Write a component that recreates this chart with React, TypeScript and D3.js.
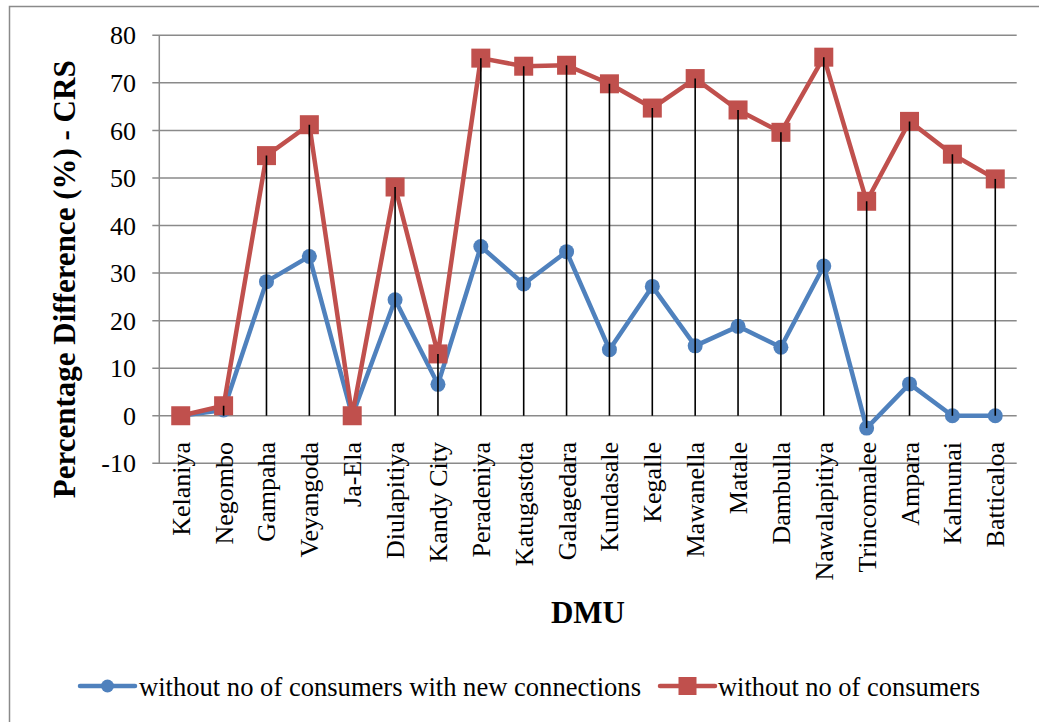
import React from "react";
import * as d3 from "d3";

// DMU names along the category axis
const categories = [
  "Kelaniya", "Negombo", "Gampaha", "Veyangoda", "Ja-Ela", "Diulapitiya",
  "Kandy City", "Peradeniya", "Katugastota", "Galagedara", "Kundasale",
  "Kegalle", "Mawanella", "Matale", "Dambulla", "Nawalapitiya",
  "Trincomalee", "Ampara", "Kalmunai", "Batticaloa",
];

// Percentage difference (%) - CRS
const withNewConnections = [
  0, 1.2, 28.2, 33.5, 0, 24.4, 6.6, 35.6, 27.7, 34.5, 13.9, 27.2, 14.7,
  18.8, 14.4, 31.5, -2.6, 6.7, 0, 0,
];
const withoutConsumers = [
  0, 2.1, 54.7, 61.2, 0, 48.1, 13.0, 75.2, 73.5, 73.7, 69.8, 64.7, 70.9,
  64.3, 59.6, 75.4, 45.1, 61.9, 55.0, 49.8,
];

const yTicks = [-10, 0, 10, 20, 30, 40, 50, 60, 70, 80];

const seriesNames = [
  "without no of consumers with new connections",
  "without no of consumers",
];

const W = 1039;
const H = 722;
const BLUE = "#4F81BD";
const RED = "#C0504D";
const GRID = "#8a8a8a";
const FONT = "'Liberation Serif', 'Times New Roman', serif";

export default function App() {
  const plotLeft = 159.3;
  const plotRight = 1016.7;
  const y = d3.scaleLinear().domain([-10, 80]).range([463.3, 35.3]);
  const x = d3.scaleBand<string>().domain(categories).range([plotLeft, plotRight]);
  const cx = (c: string) => (x(c) as number) + x.bandwidth() / 2;

  const line = d3
    .line<number>()
    .x((_, i) => cx(categories[i]))
    .y((d) => y(d));

  // high-low lines span the highest and lowest of both series and zero
  const hiLo = categories.map((c, i) => {
    const vals = [withNewConnections[i], withoutConsumers[i], 0];
    return { c, hi: d3.max(vals) as number, lo: d3.min(vals) as number };
  });

  const legendY = 686;

  return (
    <svg
      width={W}
      height={H}
      style={{ position: "absolute", left: 0, top: 0, background: "#fff" }}
      fontFamily={FONT}
    >
      <rect x={9.5} y={6.5} width={W + 20} height={H + 20} fill="#fff" stroke={GRID} strokeWidth={1.5} />

      {/* horizontal gridlines with outward ticks */}
      {yTicks.map((t) => (
        <g key={t}>
          <line x1={plotLeft - 7} x2={plotRight} y1={y(t)} y2={y(t)} stroke={GRID} strokeWidth={1.5} />
          <text
            x={136}
            y={y(t)}
            dy="0.35em"
            textAnchor="end"
            fontSize={26}
            fill="#000"
          >
            {t}
          </text>
        </g>
      ))}
      <line x1={plotLeft} x2={plotLeft} y1={y(80)} y2={y(-10)} stroke={GRID} strokeWidth={1.5} />

      {/* category labels, rotated */}
      {categories.map((c) => (
        <text
          key={c}
          transform={`translate(${cx(c) + 9},442) rotate(-90)`}
          textAnchor="end"
          fontSize={26}
          fill="#000"
        >
          {c}
        </text>
      ))}

      {/* series lines */}
      <path d={line(withNewConnections) || ""} fill="none" stroke={BLUE} strokeWidth={4.5} strokeLinejoin="round" />
      {withNewConnections.map((v, i) => (
        <circle key={"b" + i} cx={cx(categories[i])} cy={y(v)} r={7.5} fill={BLUE} />
      ))}
      <path d={line(withoutConsumers) || ""} fill="none" stroke={RED} strokeWidth={4.5} strokeLinejoin="round" />
      {withoutConsumers.map((v, i) => (
        <rect key={"r" + i} x={cx(categories[i]) - 9.5} y={y(v) - 9.5} width={19} height={19} fill={RED} />
      ))}

      {/* high-low lines */}
      {hiLo.map((d) =>
        d.hi > d.lo ? (
          <line key={"h" + d.c} x1={cx(d.c)} x2={cx(d.c)} y1={y(d.hi)} y2={y(d.lo)} stroke="#000" strokeWidth={1.6} />
        ) : null
      )}

      {/* axis titles */}
      <text
        transform={`translate(75,${(y(80) + y(-10)) / 2 + 30}) rotate(-90)`}
        textAnchor="middle"
        fontSize={31}
        fontWeight="bold"
        fill="#000"
      >
        Percentage Difference (%) - CRS
      </text>
      <text x={588} y={623} textAnchor="middle" fontSize={31} fontWeight="bold" fill="#000">
        DMU
      </text>

      {/* legend */}
      <line x1={80} x2={135} y1={legendY} y2={legendY} stroke={BLUE} strokeWidth={4.5} strokeLinecap="round" />
      <circle cx={107.5} cy={legendY} r={6.5} fill={BLUE} />
      <text x={139} y={695.5} fontSize={27} fill="#000" textLength={502} lengthAdjust="spacingAndGlyphs">
        {seriesNames[0]}
      </text>
      <line x1={660} x2={715} y1={legendY} y2={legendY} stroke={RED} strokeWidth={4.5} strokeLinecap="round" />
      <rect x={678.5} y={legendY - 9} width={18} height={18} fill={RED} />
      <text x={718} y={695.5} fontSize={27} fill="#000" textLength={262} lengthAdjust="spacingAndGlyphs">
        {seriesNames[1]}
      </text>
    </svg>
  );
}
